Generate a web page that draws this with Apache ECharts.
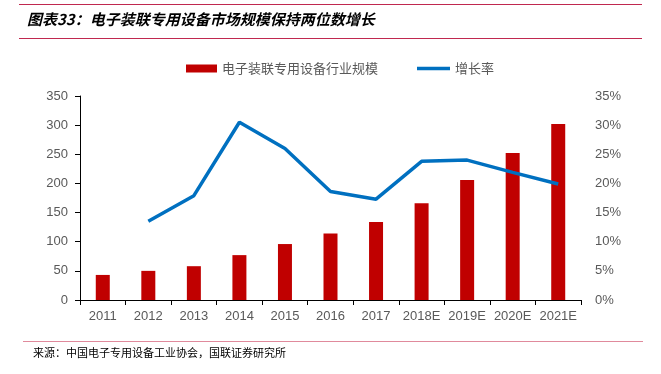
<!DOCTYPE html>
<html><head><meta charset="utf-8">
<script src="https://cdn.jsdelivr.net/npm/echarts@6/dist/echarts.min.js"></script>
<style>html,body{margin:0;padding:0;background:#fff}#c{width:661px;height:374px}</style>
</head><body><div id="c"></div>
<script>
const categories = ['2011','2012','2013','2014','2015','2016','2017','2018E','2019E','2020E','2021E'];
const scaleValues = [43, 50, 58, 77, 96, 114, 134, 166, 206, 252, 302];
const growthValues = [null, 13.5, 17.9, 30.5, 26.0, 18.6, 17.3, 23.8, 24.0, 21.9, 19.9];
const leftTicks = [0, 350, 50];
const rightTicks = [0, 35, 5];
const titleText = '图表33：电子装联专用设备市场规模保持两位数增长';
const sourceText = '来源：中国电子专用设备工业协会，国联证券研究所';
const seriesNames = ['电子装联专用设备行业规模', '增长率'];

const chart = echarts.init(document.getElementById('c'), null, {renderer: 'canvas'});
const font = '"Noto Sans CJK SC", sans-serif';
const labelFont = 'Liberation Sans, Arial, sans-serif';
chart.setOption({
  animation: false,
  backgroundColor: '#fff',
  graphic: [
    {type: 'rect', shape: {x: 19, y: 4, width: 623, height: 1}, style: {fill: '#C0284F'}},
    {type: 'text', left: 27, top: 12, style: {text: titleText, font: 'italic bold 15px ' + font, fill: '#000'}},
    {type: 'rect', shape: {x: 19, y: 38, width: 623, height: 1}, style: {fill: '#C0284F'}},
    {type: 'rect', shape: {x: 23, y: 341, width: 620, height: 1}, style: {fill: '#E08A9C'}},
    {type: 'text', left: 33, top: 347, style: {text: sourceText, font: '11px ' + font, fill: '#000'}}
  ],
  legend: [
    {
      top: 57, left: 181, itemGap: 4,
      textStyle: {fontFamily: font, fontSize: 13, color: '#595959'},
      data: [{name: seriesNames[0], icon: 'rect', itemStyle: {color: '#C00000'}}],
      itemWidth: 31, itemHeight: 8
    },
    {
      top: 57, left: 412, itemGap: 4,
      textStyle: {fontFamily: font, fontSize: 13, color: '#595959'},
      data: [{name: seriesNames[1], icon: 'rect', itemStyle: {color: '#0070C0'}}],
      itemWidth: 33, itemHeight: 3.5
    }
  ],
  grid: {left: 80, right: 80, top: 96, bottom: 74},
  xAxis: {
    type: 'category', data: categories,
    axisLine: {lineStyle: {color: '#000', width: 1}},
    axisTick: {show: true, alignWithLabel: false, length: 5, lineStyle: {color: '#000'}},
    axisLabel: {color: '#595959', fontSize: 13, fontFamily: labelFont, margin: 10, interval: 0}
  },
  yAxis: [
    {type: 'value', min: leftTicks[0], max: leftTicks[1], interval: leftTicks[2],
     axisLine: {show: true, lineStyle: {color: '#000'}},
     axisTick: {show: true, length: 5, lineStyle: {color: '#000'}},
     splitLine: {show: false},
     axisLabel: {color: '#595959', fontSize: 13, fontFamily: labelFont, margin: 12}},
    {type: 'value', min: rightTicks[0], max: rightTicks[1], interval: rightTicks[2], position: 'right',
     axisLine: {show: false}, axisTick: {show: false}, splitLine: {show: false},
     axisLabel: {color: '#595959', fontSize: 13, fontFamily: labelFont, margin: 14, formatter: '{value}%'}}
  ],
  series: [
    {name: seriesNames[0], type: 'bar', data: scaleValues, barWidth: 14,
     itemStyle: {color: '#C00000'}},
    {name: seriesNames[1], type: 'line', yAxisIndex: 1, data: growthValues,
     symbol: 'none', lineStyle: {color: '#0070C0', width: 3.5}, itemStyle: {color: '#0070C0'}}
  ]
});
</script></body></html>
